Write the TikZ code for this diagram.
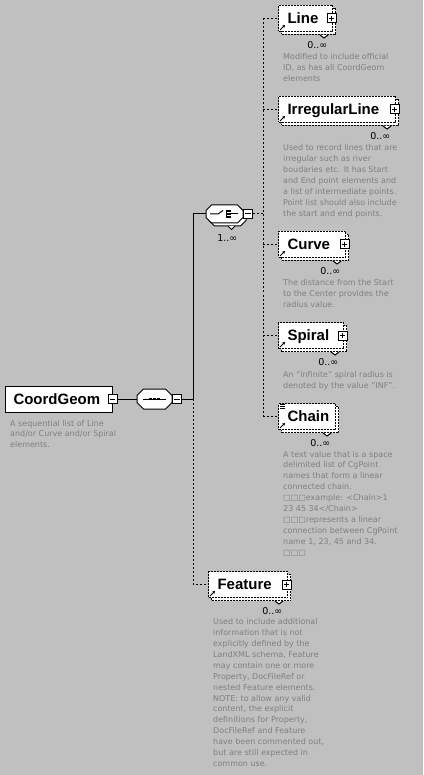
\documentclass[tikz,border=0pt]{standalone}
\usepackage{fontspec}
\setmainfont{DejaVu Sans}
\newfontfamily\lsans{Liberation Sans}
\usetikzlibrary{shadows,arrows.meta,calc}
\definecolor{bgc}{RGB}{192,192,192}
\definecolor{descc}{RGB}{128,128,128}
\newcommand\octo[5]{% x1 y1 x2 y2 chamfer
  \draw[line width=1pt,fill=white] ({#1+#5},#2) -- ({#3-#5},#2) -- (#3,{#2+#5}) -- (#3,{#4-#5}) -- ({#3-#5},#4) -- ({#1+#5},#4) -- (#1,{#4-#5}) -- (#1,{#2+#5}) -- cycle;}
\newcommand\decoel[1]{%
  \draw[line width=0.9pt,-{Stealth[length=2.8pt,width=3.2pt]}] ([shift={(2pt,2pt)}]#1.south west) -- ++(5pt,5pt);
  \draw[line width=1pt,fill=white] ([shift={(-13pt,-3pt)}]#1.south east) -- ++(4pt,-3pt) -- ++(4pt,3pt);}
\begin{document}
\begin{tikzpicture}[x=1pt,y=-1pt,
  elemfont/.style={font={\lsans\bfseries\fontsize{15}{15}\selectfont}},
  elembox/.style={elemfont, draw=black, fill=white, line width=1pt, dash pattern=on 2pt off 1pt,
    anchor=north west, inner xsep=9pt, inner ysep=0pt, minimum height=26pt,
    text height=10.5pt, text depth=0pt, align=left,
    copy shadow={shadow xshift=3pt, shadow yshift=-3pt, draw=black, fill=white, line width=1pt, dash pattern=on 2pt off 1pt}},
  rootbox/.style={elemfont, draw=black, fill=white, line width=1pt, solid,
    anchor=north west, inner xsep=8pt, inner ysep=0pt, minimum height=26pt,
    text height=10.5pt, text depth=0pt, align=left},
  pmbox/.style={draw=black, fill=white, line width=1pt, solid, minimum size=9pt, inner sep=0pt},
  plusbox/.style={pmbox, path picture={\draw[line width=1pt] ([xshift=-2.75pt]path picture bounding box.center) -- ([xshift=2.75pt]path picture bounding box.center) ([yshift=-2.75pt]path picture bounding box.center) -- ([yshift=2.75pt]path picture bounding box.center);}},
  minusbox/.style={pmbox, path picture={\draw[line width=1pt] ([xshift=-2.75pt]path picture bounding box.center) -- ([xshift=2.75pt]path picture bounding box.center);}},
  symnode/.style={inner sep=0pt, outer sep=0pt},
  mult/.style={font=\fontsize{9.5}{9.5}\selectfont, anchor=base east, inner sep=0pt, text=black},
  desc/.style={font=\fontsize{8}{10.9}\selectfont, text=descc, align=left, anchor=base west, inner sep=0pt},
  conn/.style={line width=1pt, draw=black},
  dconn/.style={conn, dash pattern=on 2pt off 2pt}]
\useasboundingbox (0,0) rectangle (423,775);
\fill[bgc] (0,0) rectangle (423,775);

% root element
\node[rootbox, text width=91pt] (cg) at (5,386) {CoordGeom};
\node[minusbox] (cgm) at (112.5,399) {};
\node[desc] (cgdesc) at (10,447.8) {A sequential list of Line\\and/or Curve and/or Spiral\\elements.};

% sequence
\node[symnode, minimum width=35pt, minimum height=20pt] (seq) at (154.5,399) {};
\octo{137}{389}{172}{409}{6.5}
\draw[line width=1pt] (143,399) -- (166,399);
\foreach \dx in {150.5,154.5,158.5}{\fill (\dx-1.4,397.6) rectangle (\dx+1.4,400.4);}
\node[minusbox] (seqm) at (177,399) {};

% choice
\node[symnode, minimum width=37pt, minimum height=18pt] (cho) at (224.5,214) {};
\octo{209}{208}{246}{226}{5.5}
\draw[line width=1pt,fill=white] (228,226) -- (231.5,229.5) -- (235,226);
\octo{206}{205}{243}{223}{5.5}
\draw[line width=1pt] (210,214) -- (218,214) -- (223,210.5);
\draw[line width=1pt] (226.5,210) -- (226.5,218.5);
\draw[line width=1.6pt] (226,210.8) -- (230.5,210.8) (226,214) -- (230.5,214) (226,217.2) -- (230.5,217.2);
\draw[line width=1pt] (230.5,214) -- (238,214);
\node[minusbox] (chom) at (248,214) {};
\node[mult] (chomult) at (237.5,242) {1..∞};

% child elements
\node[elembox, text width=36pt] (line) at (278,5) {Line};
\node[elembox, text width=99pt] (irr) at (278,96) {IrregularLine};
\node[elembox, text width=49pt] (curve) at (278,231) {Curve};
\node[elembox, text width=47pt] (spiral) at (278,322) {Spiral};
\node[elembox, text width=39pt] (chain) at (278,403) {Chain};
\node[elembox, text width=61pt] (feature) at (208,571) {Feature};

\foreach \n in {line,irr,curve,spiral,chain,feature}{\decoel{\n}}
\foreach \n in {line,irr,curve,spiral,feature}{\node[plusbox] (\n p) at ([xshift=-1.5pt]\n.east) {};}
\draw[line width=0.8pt] ([shift={(2pt,-1.5pt)}]chain.north west) -- ++(5pt,0pt)
  ([shift={(2pt,-3.5pt)}]chain.north west) -- ++(5pt,0pt)
  ([shift={(2pt,-5.5pt)}]chain.north west) -- ++(5pt,0pt);

\foreach \n in {line,irr,curve,spiral,chain,feature}{\node[mult] (\n m) at ([shift={(-5.5pt,-16.5pt)}]\n.south east) {0..∞};}

% descriptions (base anchor = last line)
\node[desc] (linedesc) at (283,81.1) {Modified to include official\\ID, as has all CoordGeom\\elements};
\node[desc] (irrdesc) at (283,216.1) {Used to record lines that are\\irregular such as river\\boudaries etc. It has Start\\and End point elements and\\a list of intermediate points.\\Point list should also include\\the start and end points.};
\node[desc] (curvedesc) at (283,307.5) {The distance from the Start\\to the Center provides the\\radius value.};
\node[desc] (spiraldesc) at (283,388.2) {An "infinite" spiral radius is\\denoted by the value "INF".};
\node[desc] (chaindesc) at (283,555.1) {A text value that is a space\\delimited list of CgPoint\\names that form a linear\\connected chain.\\□□□example: <Chain>1\\23 45 34</Chain>\\□□□represents a linear\\connection between CgPoint\\name 1, 23, 45 and 34.\\□□□};
\node[desc] (featdesc) at (213,766.4) {Used to include additional\\information that is not\\explicitly defined by the\\LandXML schema, Feature\\may contain one or more\\Property, DocFileRef or\\nested Feature elements.\\NOTE: to allow any valid\\content, the explicit\\definitions for Property,\\DocFileRef and Feature\\have been commented out,\\but are still expected in\\common use.};

% connectors
\coordinate (jseq) at (193,399);
\coordinate (jcho) at (263,214);
\draw[conn] (cgm.east) -- (seq.west);
\draw[conn] (seqm.east) -- (jseq);
\draw[conn] (jseq) |- (cho.west);
\draw[dconn] (jseq) |- (feature.west);
\draw[dconn] (chom.east) -- (jcho);
\draw[dconn] (jcho |- line.west) -- (jcho |- chain.west);
\foreach \n in {line,irr,curve,spiral,chain}{\draw[dconn] (jcho |- \n.west) -- (\n.west);}
\end{tikzpicture}
\end{document}
